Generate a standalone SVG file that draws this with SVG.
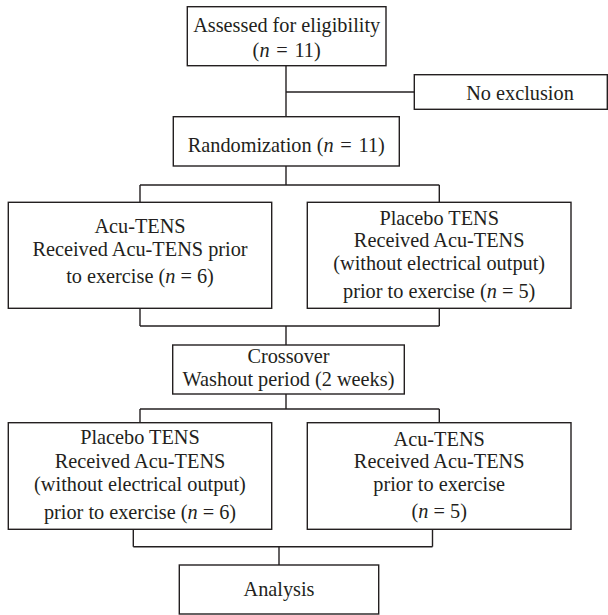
<svg xmlns="http://www.w3.org/2000/svg" width="608" height="615" viewBox="0 0 608 615">
<style>
rect.box{fill:#ffffff;stroke:#231f20;stroke-width:1.4}
.conn line{stroke:#231f20;stroke-width:1.4;fill:none}
text{font-family:'Liberation Serif','DejaVu Serif',serif;font-size:20.3px;fill:#231f20;text-anchor:middle}
.i{font-style:italic}
</style>
<rect width="608" height="615" fill="#ffffff"/>
<g class="conn" id="connectors">
<line x1="286" y1="66" x2="286" y2="117"/>
<line x1="286" y1="92" x2="414.3" y2="92"/>
<line x1="286" y1="166" x2="286" y2="185"/>
<line x1="140" y1="185" x2="439.3" y2="185"/>
<line x1="140" y1="185" x2="140" y2="202.3"/>
<line x1="439.3" y1="185" x2="439.3" y2="202.3"/>
<line x1="140" y1="308.3" x2="140" y2="326"/>
<line x1="439.3" y1="308.3" x2="439.3" y2="326"/>
<line x1="140" y1="326" x2="439.3" y2="326"/>
<line x1="286" y1="326" x2="286" y2="345"/>
<line x1="286" y1="394" x2="286" y2="409"/>
<line x1="140" y1="409" x2="439.3" y2="409"/>
<line x1="140" y1="409" x2="140" y2="422.7"/>
<line x1="439.3" y1="409" x2="439.3" y2="422.7"/>
<line x1="133.3" y1="529.3" x2="133.3" y2="546.7"/>
<line x1="432.5" y1="529.3" x2="432.5" y2="546.7"/>
<line x1="133.3" y1="546.7" x2="432.5" y2="546.7"/>
<line x1="279" y1="546.7" x2="279" y2="565"/>
</g>
<g id="assessed">
<rect class="box" x="187.3" y="6.7" width="198.7" height="59"/>
<text x="286.7" y="31.7">Assessed for eligibility</text>
<text x="286.7" y="57">(<tspan class="i">n</tspan>&#8196;=&#8196;11)</text>
</g>
<g id="no-exclusion">
<rect class="box" x="414.3" y="74.7" width="193" height="34.6"/>
<text x="520" y="99.5">No exclusion</text>
</g>
<g id="randomization">
<rect class="box" x="173.3" y="116.7" width="226" height="49.3"/>
<text x="286.3" y="151.7">Randomization (<tspan class="i">n</tspan>&#8196;=&#8196;11)</text>
</g>
<g id="acu-tens-1">
<rect class="box" x="8.3" y="202.3" width="263.4" height="106"/>
<text x="140" y="232.7">Acu-TENS</text>
<text x="140" y="256">Received Acu-TENS prior</text>
<text x="140" y="283.3">to exercise (<tspan class="i">n</tspan> = 6)</text>
</g>
<g id="placebo-1">
<rect class="box" x="307.3" y="202.3" width="263.7" height="106"/>
<text x="439.2" y="225">Placebo TENS</text>
<text x="439.2" y="247.3">Received Acu-TENS</text>
<text x="439.2" y="270">(without electrical output)</text>
<text x="439.2" y="298.3">prior to exercise (<tspan class="i">n</tspan> = 5)</text>
</g>
<g id="crossover">
<rect class="box" x="172.7" y="345" width="231.6" height="49"/>
<text x="288.5" y="363.3">Crossover</text>
<text x="288.5" y="386">Washout period (2 weeks)</text>
</g>
<g id="placebo-2">
<rect class="box" x="8.3" y="422.7" width="263.4" height="106.6"/>
<text x="140" y="444">Placebo TENS</text>
<text x="140" y="468.3">Received Acu-TENS</text>
<text x="140" y="490.7">(without electrical output)</text>
<text x="140" y="519.3">prior to exercise (<tspan class="i">n</tspan> = 6)</text>
</g>
<g id="acu-tens-2">
<rect class="box" x="307.3" y="422.7" width="263.7" height="106.6"/>
<text x="439.2" y="446">Acu-TENS</text>
<text x="439.2" y="468.3">Received Acu-TENS</text>
<text x="439.2" y="490.7">prior to exercise</text>
<text x="439.2" y="518.3">(<tspan class="i">n</tspan> = 5)</text>
</g>
<g id="analysis">
<rect class="box" x="179.3" y="565" width="199.4" height="49"/>
<text x="279" y="595.7">Analysis</text>
</g>
</svg>
